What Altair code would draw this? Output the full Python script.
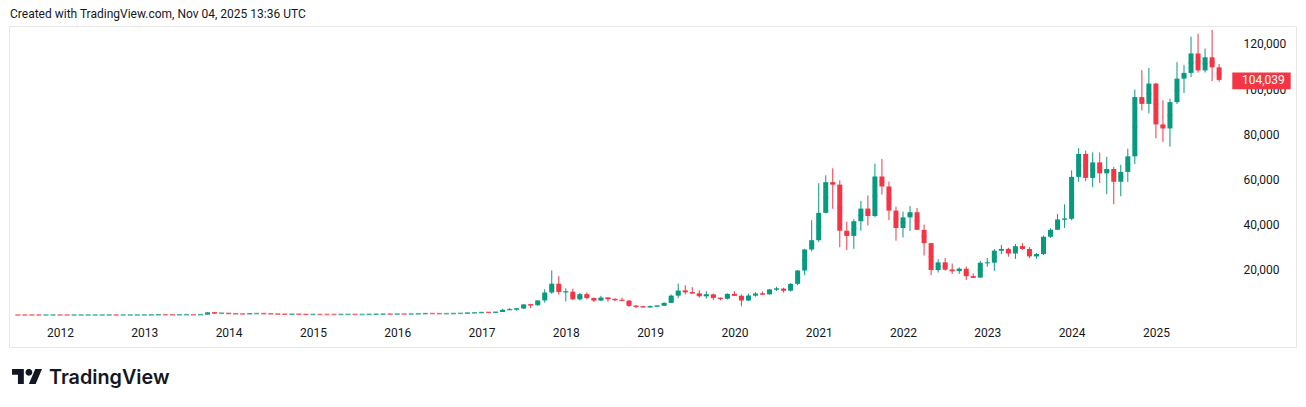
import altair as alt
import pandas as pd
import numpy as np

# ---------------- data (monthly BTC candles, Aug 2011 .. Nov 2025) ----------------
start_year, start_month = 2011, 8

open_ = [
    13.4, 8.2, 5.1, 3.2, 3.0,
    4.7, 5.5, 4.9, 4.9, 5.0, 5.2, 6.7, 9.4, 10.2, 12.4, 11.2, 12.6,
    13.5, 20.4, 33.4, 93.0, 139, 129, 97, 106, 141, 133, 204, 1130,
    757, 805, 573, 457, 447, 628, 639, 586, 478, 388, 338, 378,
    320, 217, 254, 244, 236, 230, 264, 284, 230, 236, 314, 377,
    430, 368, 437, 416, 448, 531, 673, 624, 574, 609, 700, 742,
    963, 970, 1190, 1080, 1350, 2300, 2480, 2875, 4700, 4340, 6450, 9950,
    13850, 10200, 10320, 6920, 9240, 7490, 6390, 7730, 7030, 6630, 6370, 4040,
    3740, 3460, 3820, 4100, 5350, 8560, 10820, 10080, 9600, 8290, 9150, 7560,
    7190, 9350, 8520, 6410, 8620, 9450, 9140, 11350, 11650, 10780, 13800, 19700,
    28990, 33100, 45200, 58800, 57700, 37300, 35000, 41500, 47100, 43800, 61300, 56900,
    46200, 38500, 43200, 45500, 37700, 31800, 19900, 23300, 20050, 19420, 20500, 17170,
    16540, 23130, 23150, 28480, 29250, 27200, 30470, 29230, 25940, 26970, 34640, 37720,
    42280, 42580, 61130, 71280, 60670, 67530, 62700, 64620, 58970, 63330, 70220, 96450,
    93430, 102430, 84350, 82550, 94200, 104600, 107150, 115750, 108250, 114050, 109600,
]
high = [
    13.5, 8.9, 5.2, 3.6, 4.8,
    7.4, 6.2, 5.3, 5.3, 5.2, 6.9, 9.7, 16.4, 12.8, 12.9, 12.8, 13.8,
    20.6, 33.6, 93.0, 266, 140, 130, 111, 142, 146, 215, 1163, 1160,
    1000, 835, 720, 545, 630, 680, 650, 600, 490, 415, 458, 382,
    320, 265, 300, 260, 247, 268, 318, 285, 243, 335, 500, 465,
    462, 445, 440, 465, 550, 780, 705, 630, 630, 740, 756, 975,
    1150, 1210, 1290, 1350, 2760, 2980, 2920, 4740, 4980, 6470, 11400, 19700,
    17200, 11800, 11700, 9750, 10000, 7770, 8500, 7760, 7410, 7680, 6600, 4310,
    4100, 4200, 4140, 5630, 9100, 13880, 13200, 12330, 10950, 10540, 9500, 7750,
    9580, 10500, 9190, 9440, 10070, 10380, 11450, 12470, 12080, 14100, 19900, 29300,
    41950, 58350, 61800, 64900, 59600, 41300, 42400, 50500, 52900, 67000, 69000, 59050,
    47950, 45800, 48200, 47400, 40000, 31900, 24700, 25200, 22800, 21100, 21450, 18400,
    23950, 25250, 29200, 31000, 29800, 31400, 31800, 30050, 27500, 35200, 38400, 44700,
    48970, 64000, 73800, 72800, 71950, 71950, 70000, 65600, 66500, 73600, 99800, 108300,
    109350, 102750, 95000, 95750, 111900, 110600, 123200, 124450, 117900, 126200, 111100,
]
low = [
    7.0, 4.8, 2.0, 2.0, 2.6,
    4.6, 4.0, 4.6, 4.7, 4.9, 5.2, 6.5, 7.1, 9.8, 10.8, 10.5, 12.4,
    13.2, 19.5, 33.0, 50, 79, 88, 66, 95, 118, 105, 197, 450,
    730, 420, 440, 340, 420, 545, 565, 440, 368, 275, 318, 306,
    152, 211, 235, 214, 228, 220, 252, 195, 226, 235, 295, 347,
    353, 365, 395, 410, 437, 515, 605, 470, 570, 603, 680, 740,
    750, 930, 890, 1060, 1340, 2100, 1830, 2640, 2980, 4110, 5500, 9400,
    9000, 6000, 6600, 6440, 7000, 5750, 6070, 5880, 6100, 6200, 3550, 3130,
    3350, 3390, 3730, 4050, 5330, 7450, 9070, 9380, 7710, 7300, 6520, 6430,
    6870, 8450, 3850, 6150, 8120, 8900, 8980, 10600, 9880, 10380, 13200, 17600,
    28130, 32300, 45000, 47000, 30000, 28800, 29300, 37300, 39600, 43300, 53300, 42000,
    32900, 34300, 37200, 37600, 26300, 17600, 18800, 19600, 18150, 18200, 15500, 16300,
    16500, 21350, 19550, 26950, 25800, 24800, 28850, 25150, 24900, 26550, 34100, 37600,
    38550, 41880, 59000, 59200, 56550, 58400, 53500, 49000, 52550, 58900, 66800, 90500,
    89200, 78200, 76600, 74500, 93400, 98200, 105300, 107300, 107300, 103500, 103200,
]
close = [
    8.2, 5.1, 3.2, 3.0, 4.7,
    5.5, 4.9, 4.85, 5.0, 5.2, 6.7, 9.4, 10.2, 12.4, 11.2, 12.6, 13.5,
    20.4, 33.4, 93.0, 139, 129, 97, 106, 141, 133, 204, 1130, 757,
    805, 573, 457, 447, 628, 639, 586, 478, 388, 338, 378, 320,
    217, 254, 244, 236, 230, 264, 284, 230, 236, 314, 377, 430,
    368, 437, 416, 448, 531, 673, 624, 574, 609, 700, 742, 963,
    970, 1190, 1080, 1350, 2300, 2480, 2875, 4700, 4340, 6450, 9950, 13850,
    10200, 10320, 6920, 9240, 7490, 6390, 7730, 7030, 6630, 6370, 4040, 3740,
    3460, 3820, 4100, 5350, 8560, 10820, 10080, 9600, 8290, 9150, 7560, 7190,
    9350, 8520, 6410, 8620, 9450, 9140, 11350, 11650, 10780, 13800, 19700, 28990,
    33100, 45200, 58800, 57700, 37300, 35000, 41500, 47100, 43800, 61300, 56900, 46200,
    38500, 43200, 45500, 37700, 31800, 19900, 23300, 20050, 19420, 20500, 17170, 16540,
    23130, 23150, 28480, 29250, 27200, 30470, 29230, 25940, 26970, 34640, 37720, 42280,
    42580, 61130, 71280, 60670, 67530, 62700, 64620, 58970, 63330, 70220, 96450, 93430,
    102430, 84350, 82550, 94200, 104600, 107150, 115750, 108250, 114050, 109600, 104039,
]

year_labels = list(range(2012, 2026))
price_ticks = [20000, 40000, 60000, 80000, 100000, 120000]
last_price = 104039
header_text = "Created with TradingView.com, Nov 04, 2025 13:36 UTC"
brand_text = "TradingView"

GREEN = "#089981"
RED = "#F23645"
TEXT = "#131722"
FONT = "Roboto"

# ---------------- frame ----------------
n = len(close)
first_index = (start_year - 2012) * 12 + (start_month - 1)
df = pd.DataFrame({
    "i": [first_index + k for k in range(n)],
    "open": open_, "high": high, "low": low, "close": close,
})
df["dir"] = np.where(df["close"] >= df["open"], "up", "down")
df["mid"] = (df["open"] + df["close"]) / 2

xscale = alt.Scale(domain=[-5.55, 176.23], nice=False, zero=False)
yscale = alt.Scale(domain=[-14160, 127900], nice=False, zero=False)
color = alt.Color("dir:N", scale=alt.Scale(domain=["up", "down"], range=[GREEN, RED]), legend=None)

xaxis = alt.Axis(
    values=[(y - 2012) * 12 + 1 for y in year_labels],
    labelExpr="floor(datum.value / 12) + 2012",
    orient="bottom", offset=-14.5, labelPadding=0, labelBaseline="middle",
    labelAlign="center", labelFlush=False, labelOverlap=False,
    ticks=False, tickSize=0, domain=False, grid=False, title=None,
)
yaxis = alt.Axis(
    values=price_ticks, format=",d", orient="right", offset=-53, labelPadding=0,
    labelAlign="left", labelBaseline="middle", labelOverlap=False, labelFlush=False,
    ticks=False, tickSize=0, domain=False, grid=False, title=None,
)

X = alt.X("i:Q", scale=xscale, axis=xaxis)

base = alt.Chart(df)

wicks = base.mark_rule(strokeWidth=1).encode(
    x=X,
    y=alt.Y("low:Q", scale=yscale, axis=yaxis),
    y2="high:Q",
    color=color,
)
minbody = base.mark_tick(orient="horizontal", size=5, thickness=1.6).encode(
    x=X,
    y=alt.Y("mid:Q", scale=yscale, axis=yaxis),
    color=color,
)
bodies = base.mark_bar(size=5).encode(
    x=X,
    y=alt.Y("open:Q", scale=yscale, axis=yaxis),
    y2="close:Q",
    color=color,
)

price_df = pd.DataFrame({"p": [last_price], "t": [f"{last_price:,}"]})
box_path = "M-1,-0.288L1,-0.288L1,0.288L-1,0.288Z"
price_box = alt.Chart(price_df).mark_point(
    shape=box_path, filled=True, opacity=1, color=RED, size=58.4 ** 2, strokeWidth=0, yOffset=1
).encode(
    x=alt.value(1252.5),
    y=alt.Y("p:Q", scale=yscale, axis=yaxis),
)
price_txt = alt.Chart(price_df).mark_text(
    font=FONT, fontSize=12, color="white", align="center", baseline="middle"
).encode(
    x=alt.value(1254.4),
    y=alt.Y("p:Q", scale=yscale, axis=yaxis),
    text="t:N",
)

header = alt.Chart(pd.DataFrame({"t": [header_text]})).mark_text(
    font=FONT, fontSize=12, color=TEXT, align="left", baseline="alphabetic"
).encode(x=alt.value(1), y=alt.value(-7.6), text="t:N")

brand = alt.Chart(pd.DataFrame({"t": [brand_text]})).mark_text(
    font="Inter", fontSize=19.8, fontWeight=600, color=TEXT, align="left", baseline="alphabetic"
).encode(x=alt.value(40), y=alt.value(358), text="t:N")

# TradingView logo glyph (two polygons and a dot), normalised to [-1, 1]
def P(x, y):
    return f"{(x - 17.75) / 17.75:.4f},{(y - 13) / 17.75:.4f}"

logo_path = (
    "M" + P(14, 22) + "L" + P(7, 22) + "L" + P(7, 11) + "L" + P(0, 11) + "L" + P(0, 4) + "L" + P(14, 4) + "Z"
    + "M" + P(28, 22) + "L" + P(20, 22) + "L" + P(27.5, 4) + "L" + P(35.5, 4) + "Z"
)
pts = [P(20 + 4 * np.cos(a), 8 + 4 * np.sin(a)) for a in np.linspace(0, 2 * np.pi, 24, endpoint=False)]
logo_path += "M" + "L".join(pts) + "Z"

logo = alt.Chart(pd.DataFrame({"k": [0]})).mark_point(
    shape=logo_path, filled=True, opacity=1, color=TEXT, size=900, strokeWidth=0
).encode(x=alt.value(18), y=alt.value(350.5))

chart = alt.layer(
    wicks, minbody, bodies, price_box, price_txt, header, brand, logo
).properties(
    width=1287, height=321,
    autosize=alt.AutoSizeParams(type="none"),
    padding={"left": 1, "top": 18, "right": 2, "bottom": 50},
    background="white",
).configure_view(
    stroke="#e6e6e6", strokeWidth=1, fill="white"
).configure_axis(
    labelFont=FONT, labelFontSize=12, labelColor=TEXT,
)

chart.save("out.html", embed_options={"renderer": "svg", "actions": False})
